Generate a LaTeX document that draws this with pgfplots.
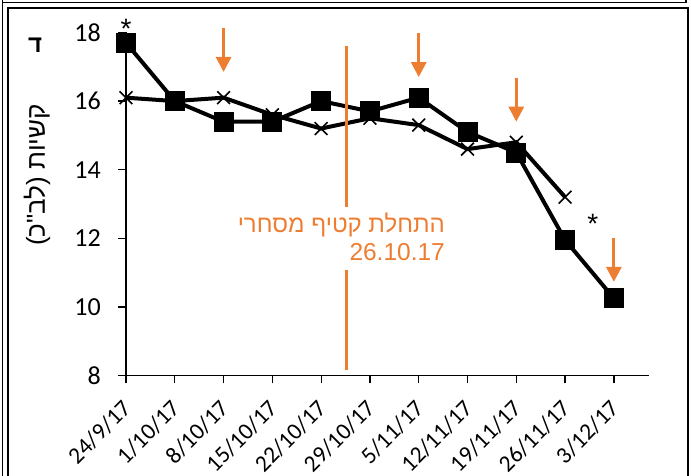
\documentclass[border=0pt]{standalone}
\usepackage{fontspec}
\setmainfont{Carlito}
\newfontfamily\hebfont[Script=Hebrew]{Liberation Sans}
\TeXXeTstate=1
\usepackage{pgfplots}
\pgfplotsset{compat=1.18}
\usetikzlibrary{arrows.meta}
\definecolor{orng}{RGB}{237,125,49}
\begin{document}
\begin{tikzpicture}[x=1pt,y=1pt]
\path[use as bounding box] (0,0) rectangle (691,476);
\begin{axis}[
  at={(126pt,100.5pt)}, anchor=south west,
  scale only axis, width=523pt, height=343pt,
  xmin=0, xmax=10.72, ymin=8, ymax=18,
  axis lines*=left,
  axis line style={line width=1.5pt, black},
  xtick={0,...,10},
  xticklabels={24/9/17,1/10/17,8/10/17,15/10/17,22/10/17,29/10/17,5/11/17,12/11/17,19/11/17,26/11/17,3/12/17},
  ytick={8,10,12,14,16,18},
  tick align=outside, major tick length=8pt,
  tick style={line width=1.3pt, black},
  /pgf/number format/assume math mode=true,
  yticklabel style={font=\fontsize{26}{30}\selectfont, inner sep=0pt, xshift=-17pt},
  xticklabel style={font=\fontsize{23.5}{28}\selectfont, xshift=1pt, yshift=-21pt, rotate=45, anchor=east, inner sep=0pt},
  clip=false,
]
\addplot[black, line width=4pt, mark=x, mark size=9pt, mark options={line width=1.6pt}]
  coordinates {(0,16.1) (1,16.0) (2,16.1) (3,15.6) (4,15.2) (5,15.5) (6,15.3) (7,14.6) (8,14.8) (9,13.2)};
\addplot[black, line width=4pt, mark=square*, mark size=9.5pt, mark options={line width=0pt}]
  coordinates {(0,17.7) (1,16.0) (2,15.4) (3,15.4) (4,16.0) (5,15.7) (6,16.1) (7,15.1) (8,14.5) (9,11.95) (10,10.25)};
% vertical orange line
\draw[orng, line width=3pt] (axis cs:4.52,17.6) -- (axis cs:4.52,12.92);
\draw[orng, line width=3pt] (axis cs:4.52,11.08) -- (axis cs:4.52,8.16);
\node[orng, anchor=east, inner sep=0pt, font=\hebfont\fontsize{24}{28}\selectfont] at (axis cs:6.54,12.39) {\beginR התחלת קטיף מסחרי\endR};
\node[orng, anchor=east, inner sep=0pt, font=\hebfont\fontsize{24.5}{28}\selectfont] at (axis cs:6.54,11.6) {26.10.17};
% arrows
\draw[orng, line width=3pt, -{Triangle[width=15pt,length=15pt]}] (axis cs:2,18.13) -- (axis cs:2,16.85);
\draw[orng, line width=3pt, -{Triangle[width=15pt,length=15pt]}] (axis cs:6,17.98) -- (axis cs:6,16.70);
\draw[orng, line width=3pt, -{Triangle[width=15pt,length=15pt]}] (axis cs:8,16.66) -- (axis cs:8,15.40);
\draw[orng, line width=3pt, -{Triangle[width=15pt,length=15pt]}] (axis cs:10,12.0) -- (axis cs:10,10.73);
\node[font=\hebfont\fontsize{28}{32}\selectfont, inner sep=0pt, anchor=base] at (axis cs:0,17.82) {*};
\node[font=\hebfont\fontsize{28}{32}\selectfont, inner sep=0pt, anchor=base] at (axis cs:9.57,12.15) {*};
\end{axis}
% y label
\node[rotate=90, inner sep=0pt, font=\hebfont\fontsize{26}{30}\selectfont] at (37,301) {\beginR קשיות (לב"כ)\endR};
\node[inner sep=0pt, font=\hebfont\bfseries\fontsize{24}{26}\selectfont] at (35,431) {\beginR ד\endR};
% frame
\draw[line width=1.3pt] (2.5,476) -- (2.5,473.5) -- (686,473.5) -- (686,476);
\draw[line width=1.3pt] (2.5,473.5) -- (2.5,0);
\draw[line width=1.3pt] (8,0) -- (8,468) -- (688,468) -- (688,0);
\end{tikzpicture}
\end{document}
